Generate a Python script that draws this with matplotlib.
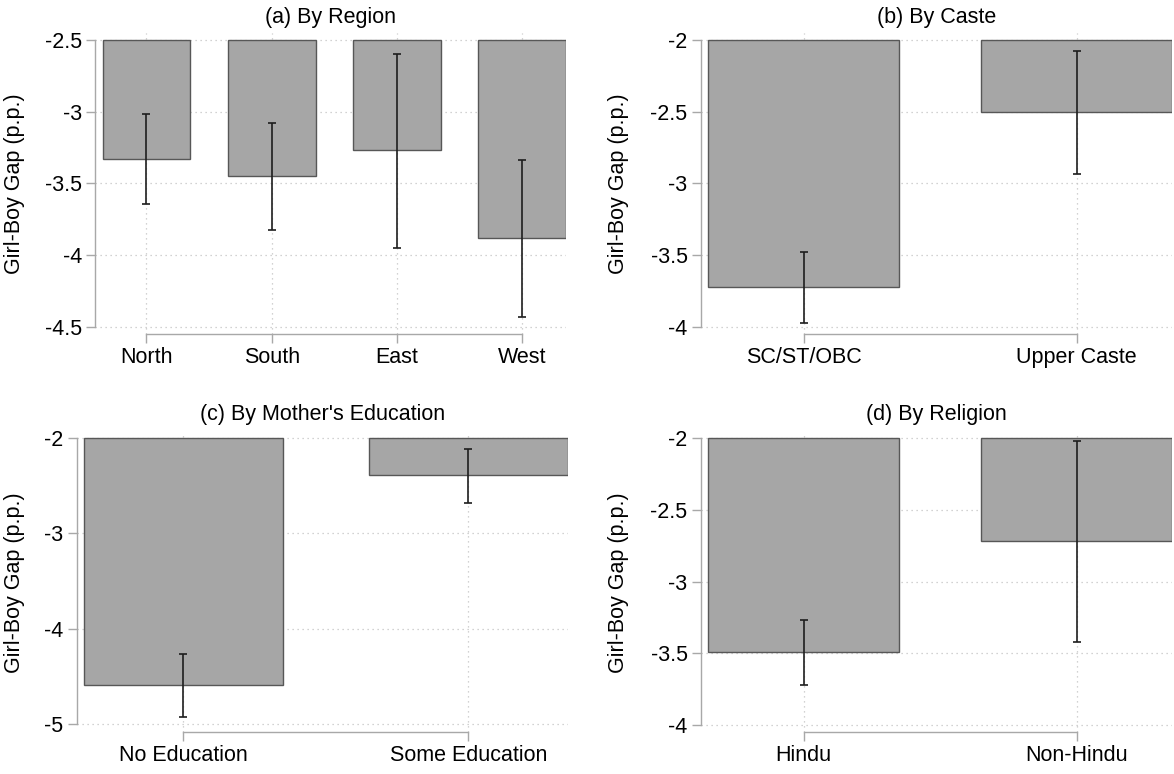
import numpy as np
import matplotlib
matplotlib.use("Agg")
import matplotlib.pyplot as plt
from matplotlib.ticker import FuncFormatter

# data (girl-boy gap, p.p., with 95% CI)
region_labels = ["North", "South", "East", "West"]
region_vals = [-3.328, -3.449, -3.269, -3.881]
region_lo = [-3.642, -3.827, -3.949, -4.430]
region_hi = [-3.016, -3.077, -2.596, -3.339]

caste_labels = ["SC/ST/OBC", "Upper Caste"]
caste_vals = [-3.720, -2.502]
caste_lo = [-3.973, -2.935]
caste_hi = [-3.476, -2.077]

educ_labels = ["No Education", "Some Education"]
educ_vals = [-4.585, -2.391]
educ_lo = [-4.920, -2.678]
educ_hi = [-4.260, -2.118]

relig_labels = ["Hindu", "Non-Hindu"]
relig_vals = [-3.493, -2.716]
relig_lo = [-3.721, -3.419]
relig_hi = [-3.265, -2.019]

region_ticks = [-2.5, -3, -3.5, -4, -4.5]
caste_ticks = [-2, -2.5, -3, -3.5, -4]
educ_ticks = [-2, -3, -4, -5]
relig_ticks = [-2, -2.5, -3, -3.5, -4]

plt.rcParams['font.family'] = ['Liberation Sans', 'DejaVu Sans']
plt.rcParams['axes.unicode_minus'] = False

W, H = 1174, 774
fig = plt.figure(figsize=(W / 100, H / 100), dpi=100)

AXCOL = '#a8a8a8'
GRIDCOL = '#c4c4c4'
FS = 15.5


def panel(box, title, labels, vals, lo, hi, ticks, xleft, ylab_px, pad_top, pad_bot, title_pad):
    x0, x1, ytop, ybot = box
    ax = fig.add_axes([x0 / W, 1 - ybot / H, (x1 - x0) / W, (ybot - ytop) / H])
    n = len(labels)
    x = np.arange(n)
    vals = np.array(vals)
    top, bot = max(ticks), min(ticks)
    h_px = ybot - ytop
    pxu = (h_px - pad_top - pad_bot) / (top - bot)
    ax.set_ylim(bot - pad_bot / pxu, top + pad_top / pxu)
    ax.set_xlim(xleft, n - 1 + 0.35)

    # bars hang down from the top of the axis range
    ax.bar(x, vals - top, bottom=top, width=0.7, color='#a6a6a6',
           edgecolor='#575757', linewidth=1.0, zorder=2)
    yerr = [vals - np.array(lo), np.array(hi) - vals]
    ax.errorbar(x, vals, yerr=yerr, fmt='none', ecolor='#1e1e1e',
                elinewidth=1.2, capsize=2.6, capthick=1.2, zorder=3)

    ax.set_yticks(ticks)
    ax.yaxis.set_major_formatter(FuncFormatter(lambda v, p: '%g' % v))
    ax.set_xticks(x)
    ax.set_xticklabels(labels)
    ax.tick_params(axis='both', length=6.5, width=1.0, color=AXCOL,
                   labelsize=FS, pad=3)
    ax.grid(True, color=GRIDCOL, linestyle=(0, (1, 3)), linewidth=0.9, zorder=0)
    ax.set_axisbelow(True)

    for s in ['top', 'right']:
        ax.spines[s].set_visible(False)
    ax.spines['left'].set_bounds(bot, top)
    ax.spines['bottom'].set_bounds(0, n - 1)
    for s in ['left', 'bottom']:
        ax.spines[s].set_color(AXCOL)
        ax.spines[s].set_linewidth(1.0)

    ax.set_ylabel('Girl-Boy Gap (p.p.)', fontsize=FS)
    ax.yaxis.set_label_coords((ylab_px - x0) / (x1 - x0), 0.5)
    ax.set_title(title, fontsize=FS, pad=title_pad)
    return ax


panel((95.5, 566, 33, 334.3), '(a) By Region', region_labels, region_vals,
      region_lo, region_hi, region_ticks, -0.407, 25, 7, 7.6, 7.0)
panel((700.7, 1172, 33, 334.3), '(b) By Caste', caste_labels, caste_vals,
      caste_lo, caste_hi, caste_ticks, -0.378, 629, 7, 7.6, 7.0)
panel((76.7, 568.3, 432.7, 732.3), "(c) By Mother's Education", educ_labels,
      educ_vals, educ_lo, educ_hi, educ_ticks, -0.374, 25, 5.3, 8, 9.0)
panel((700.7, 1172, 432.7, 732.3), '(d) By Religion', relig_labels, relig_vals,
      relig_lo, relig_hi, relig_ticks, -0.378, 629, 5.6, 7.3, 9.0)

fig.savefig('out.png', dpi=100)
